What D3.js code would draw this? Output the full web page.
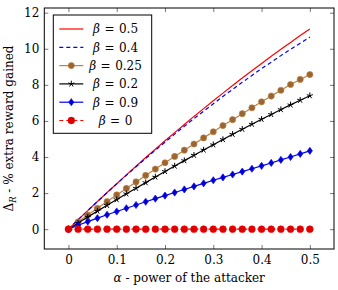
<!DOCTYPE html>
<html>
<head>
<meta charset="utf-8">
<script src="https://cdn.jsdelivr.net/npm/d3@7"></script>
<style>
  body { margin: 0; background: #fff; }
  svg text { font-family: "DejaVu Serif", serif; }
</style>
</head>
<body>
<svg id="chart"></svg>
<script>
// alpha values (x) shared by every series
const alpha = [0, 0.02, 0.04, 0.06, 0.08, 0.10, 0.12, 0.14, 0.16, 0.18, 0.20, 0.22, 0.24,
  0.26, 0.28, 0.30, 0.32, 0.34, 0.36, 0.38, 0.40, 0.42, 0.44, 0.46, 0.48, 0.50];

const beta05 = [0, 0.52, 1.03, 1.53, 2.03, 2.52, 3.01, 3.49, 3.97, 4.43, 4.90, 5.35, 5.80,
  6.25, 6.68, 7.12, 7.54, 7.96, 8.38, 8.78, 9.18, 9.58, 9.97, 10.35, 10.73, 11.10];
const beta04 = [0, 0.52, 1.03, 1.53, 2.02, 2.51, 2.99, 3.46, 3.92, 4.38, 4.82, 5.27, 5.70,
  6.13, 6.54, 6.95, 7.36, 7.75, 8.14, 8.52, 8.90, 9.26, 9.62, 9.97, 10.31, 10.65];
const beta025 = [0, 0.40, 0.78, 1.16, 1.53, 1.90, 2.26, 2.62, 2.98, 3.33, 3.68, 4.03, 4.38,
  4.72, 5.06, 5.40, 5.74, 6.07, 6.40, 6.73, 7.06, 7.38, 7.70, 8.02, 8.30, 8.57];
const beta02 = [0, 0.34, 0.67, 1.00, 1.32, 1.64, 1.96, 2.27, 2.58, 2.89, 3.20, 3.50, 3.80,
  4.10, 4.39, 4.68, 4.97, 5.26, 5.54, 5.82, 6.09, 6.36, 6.63, 6.89, 7.15, 7.40];
const beta09 = [0, 0.22, 0.42, 0.61, 0.80, 0.98, 1.16, 1.34, 1.52, 1.69, 1.86, 2.03, 2.20,
  2.37, 2.54, 2.71, 2.87, 3.03, 3.19, 3.35, 3.51, 3.67, 3.84, 4.00, 4.17, 4.34];
const beta0 = [0, 0, 0, 0, 0, 0, 0, 0, 0, 0, 0, 0, 0,
  0, 0, 0, 0, 0, 0, 0, 0, 0, 0, 0, 0, 0];

const xTicks = [0, 0.1, 0.2, 0.3, 0.4, 0.5];
const xTickLabels = ["0", "0.1", "0.2", "0.3", "0.4", "0.5"];
const yTicks = [0, 2, 4, 6, 8, 10, 12];
const legendLabels = ["0.5", "0.4", "0.25", "0.2", "0.9", "0"];

// Step 1: dimensions
const width = 338;
const height = 290;
const pLeft = 44.3, pRight = 334, pTop = 8, pBottom = 249;
const serif = "DejaVu Serif";
const fs = 12;

var svg = d3.select("#chart")
  .attr("width", width)
  .attr("height", height);

// Step 2: scales (pgfplots style enlarged limits)
var x = d3.scaleLinear().domain([-0.05, 0.55]).range([pLeft, pRight]);
var y = d3.scaleLinear().domain([-1.1, 12.26]).range([pBottom, pTop]);

// Step 3: axes, ticks pointing inward on all four sides
var tickColor = "#555";

svg.append("g")
  .attr("transform", "translate(0," + pBottom + ")")
  .call(d3.axisBottom(x).tickValues(xTicks)
    .tickFormat(function(d, i) { return xTickLabels[i]; })
    .tickSizeInner(-4).tickSizeOuter(0).tickPadding(6));
svg.append("g")
  .attr("transform", "translate(0," + pTop + ")")
  .call(d3.axisTop(x).tickValues(xTicks).tickFormat("")
    .tickSizeInner(-4).tickSizeOuter(0));
svg.append("g")
  .attr("transform", "translate(" + pLeft + ",0)")
  .call(d3.axisLeft(y).tickValues(yTicks)
    .tickSizeInner(-4).tickSizeOuter(0).tickPadding(5));
svg.append("g")
  .attr("transform", "translate(" + pRight + ",0)")
  .call(d3.axisRight(y).tickValues(yTicks).tickFormat("")
    .tickSizeInner(-4).tickSizeOuter(0));

svg.selectAll(".domain").remove();
svg.selectAll(".tick line").attr("stroke", tickColor).attr("stroke-width", 0.8);
svg.selectAll(".tick text")
  .style("font-family", serif)
  .attr("font-size", fs)
  .attr("fill", "#000");

// Step 4: series definitions
var star = function(r) {
  var p = "";
  for (var k = 0; k < 5; k++) {
    var a = -Math.PI / 2 + k * 2 * Math.PI / 5;
    p += "M0,0L" + (r * Math.cos(a)).toFixed(2) + "," + (r * Math.sin(a)).toFixed(2);
  }
  return p;
};
var diamond = "M0,-3.6L2.6,0L0,3.6L-2.6,0Z";

var series = [
  { values: beta05, color: "rgb(255,0,0)", dash: null, mark: null },
  { values: beta04, color: "rgb(0,0,255)", dash: "4,3", mark: null },
  { values: beta025, color: "rgb(191,128,64)", dash: null, mark: "circle", fill: "rgb(153,102,51)", r: 3.1 },
  { values: beta02, color: "rgb(0,0,0)", dash: null, mark: "star" },
  { values: beta09, color: "rgb(0,0,255)", dash: null, mark: "diamond", fill: "rgb(0,0,204)" },
  { values: beta0, color: "rgb(255,0,0)", dash: "4,3", mark: "circle", fill: "rgb(220,0,0)", r: 3.4 }
];

var line = d3.line()
  .x(function(d, i) { return x(alpha[i]); })
  .y(function(d) { return y(d); });

function drawMark(g, s, cx, cy) {
  if (s.mark === "circle") {
    g.append("circle").attr("cx", cx).attr("cy", cy).attr("r", s.r)
      .attr("fill", s.fill).attr("stroke", s.color).attr("stroke-width", 0.6);
  } else if (s.mark === "star") {
    g.append("path").attr("transform", "translate(" + cx + "," + cy + ")")
      .attr("d", star(3.2)).attr("fill", "none")
      .attr("stroke", s.color).attr("stroke-width", 1);
  } else if (s.mark === "diamond") {
    g.append("path").attr("transform", "translate(" + cx + "," + cy + ")")
      .attr("d", diamond).attr("fill", s.fill)
      .attr("stroke", s.color).attr("stroke-width", 0.6);
  }
}

var plot = svg.append("g");
series.forEach(function(s) {
  plot.append("path")
    .attr("d", line(s.values))
    .attr("fill", "none")
    .attr("stroke", s.color)
    .attr("stroke-width", 1.2)
    .attr("stroke-dasharray", s.dash);
  if (s.mark) {
    var mg = plot.append("g");
    s.values.forEach(function(v, i) { drawMark(mg, s, x(alpha[i]), y(v)); });
  }
});

// Step 5: frame
svg.append("rect")
  .attr("x", pLeft).attr("y", pTop)
  .attr("width", pRight - pLeft).attr("height", pBottom - pTop)
  .attr("fill", "none").attr("stroke", "#000").attr("stroke-width", 1);

// Step 6: legend
var legend = svg.append("g");
legend.append("rect")
  .attr("x", 53.3).attr("y", 15)
  .attr("width", 98.4).attr("height", 118.3)
  .attr("fill", "#fff").attr("stroke", "#000").attr("stroke-width", 1);

series.forEach(function(s, i) {
  var ly = 29 + i * 18.3;
  legend.append("line")
    .attr("x1", 59.3).attr("x2", 83.3).attr("y1", ly).attr("y2", ly)
    .attr("stroke", s.color).attr("stroke-width", 1.2)
    .attr("stroke-dasharray", s.dash);
  if (s.mark) drawMark(legend, s, 71.3, ly);
  var t = legend.append("text")
    .attr("x", 115.5).attr("y", ly + 4.3)
    .attr("text-anchor", "middle")
    .style("font-family", serif)
    .attr("font-size", fs);
  t.append("tspan").attr("font-style", "italic").text("β");
  t.append("tspan").attr("dx", 4.5).text("=");
  t.append("tspan").attr("dx", 4.5).text(legendLabels[i]);
});

// Step 7: axis labels
var xl = svg.append("text")
  .attr("x", (pLeft + pRight) / 2).attr("y", 282)
  .attr("text-anchor", "middle")
  .style("font-family", serif)
  .attr("font-size", fs);
xl.append("tspan").attr("font-style", "italic").text("α");
xl.append("tspan").text(" - power of the attacker");

var yl = svg.append("text")
  .attr("transform", "translate(13," + ((pTop + pBottom) / 2) + ") rotate(-90)")
  .attr("text-anchor", "middle")
  .style("font-family", serif)
  .attr("font-size", fs);
yl.append("tspan").text("Δ");
yl.append("tspan").attr("font-style", "italic").attr("font-size", 8.5).attr("dy", 3).text("R");
yl.append("tspan").attr("dy", -3).text(" - % extra reward gained");
</script>
</body>
</html>
